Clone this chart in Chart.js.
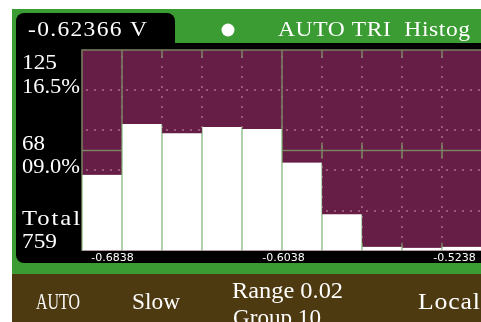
<!DOCTYPE html>
<html>
<head>
<meta charset="utf-8">
<script src="https://cdn.jsdelivr.net/npm/chart.js@4.4.1/dist/chart.umd.min.js"></script>
<style>
  html, body { margin: 0; padding: 0; background: #fff; overflow: hidden; }
  #wrap { position: relative; width: 482px; height: 322px; }
</style>
</head>
<body>
<div id="wrap"><canvas id="histCanvas" width="482" height="322"></canvas></div>
<script>
// Histogram bins: lower edge of each bin (V) and number of samples in it
const binStarts = ['-0.7038', '-0.6838', '-0.6638', '-0.6438', '-0.6238',
                   '-0.6038', '-0.5838', '-0.5638', '-0.5438', '-0.5238'];
const binCounts = [75, 125, 116, 122, 120, 87, 36, 4, 3, 4];

// Voltage labels under the plot
const axisTicks = [-0.6838, -0.6038, -0.5238];

// Count markers on the left side and the total sample count
const markCounts = [125, 68];
const totalCount = 759;

// Status line texts
const reading = '-0.62366 V';
const headerStatus = 'AUTO TRI  Histog';
const footerItems = ['AUTO', 'Slow', 'Range 0.02', 'Group 10', 'Local'];

const GREEN = 'rgb(58,156,50)';
const BROWN = 'rgb(78,58,16)';
const PLOT_BG = 'rgb(102,30,70)';
const GRID = 'rgb(122,130,98)';
const DOTS = 'rgba(205,150,170,0.5)';
const SERIF = 'Liberation Serif';

function pct(n) {
    return (n / totalCount * 100).toFixed(1).padStart(4, '0') + '%';
}

// draw a string so it spans the given width: stretch a little, then space out,
// or squeeze when it is too wide
function fitText(ctx, text, x, y, width) {
    ctx.save();
    ctx.letterSpacing = '0px';
    const natural = ctx.measureText(text).width;
    const sx = Math.min(width / natural, 1.12);
    ctx.translate(x, y);
    ctx.scale(sx, 1);
    if (sx < width / natural && text.length > 1) {
        ctx.letterSpacing = ((width / sx - natural) / (text.length - 1)).toFixed(2) + 'px';
    }
    ctx.fillText(text, 0, 0);
    ctx.restore();
}

const scopeFrame = {
    id: 'scopeFrame',
    beforeDraw(chart) {
        const ctx = chart.ctx;
        ctx.save();
        ctx.fillStyle = '#fff';
        ctx.fillRect(0, 0, chart.width, chart.height);
        ctx.fillStyle = GREEN;
        ctx.fillRect(12, 9, chart.width - 12, 265);
        ctx.fillStyle = BROWN;
        ctx.fillRect(12, 274, chart.width - 12, 48);

        // black display panel with the reading tab on top
        ctx.fillStyle = '#000';
        ctx.beginPath();
        ctx.roundRect(16, 13, 159, 40, [8, 8, 0, 0]);
        ctx.fill();
        ctx.beginPath();
        ctx.roundRect(16, 43, chart.width - 16, 220, [0, 0, 0, 8]);
        ctx.fill();

        // trigger indicator
        ctx.fillStyle = '#fff';
        ctx.beginPath();
        ctx.arc(228, 30, 6.5, 0, Math.PI * 2);
        ctx.fill();
        ctx.restore();
    },
    beforeDatasetsDraw(chart) {
        const ctx = chart.ctx;
        const { left, right, top, bottom } = chart.chartArea;
        const dx = (right - left) / 10;
        const dy = (bottom - top) / 5;
        const midY = top + dy * 2.5;
        ctx.save();
        ctx.fillStyle = PLOT_BG;
        ctx.fillRect(left, top, right - left, bottom - top);

        // dotted division lines
        ctx.fillStyle = DOTS;
        for (let k = 1; k < 10; k++) {
            const x = Math.round(left + k * dx);
            for (let y = top + 6; y < bottom; y += 10) ctx.fillRect(x - 1, y, 2, 2);
        }
        for (let k = 1; k < 5; k++) {
            const y = Math.round(top + k * dy);
            for (let x = left + 4; x < right; x += 8) ctx.fillRect(x, y - 1, 2, 2);
        }

        // frame, centre lines and division ticks
        ctx.strokeStyle = GRID;
        ctx.lineWidth = 1.5;
        ctx.beginPath();
        ctx.moveTo(left, bottom); ctx.lineTo(left, top); ctx.lineTo(right, top);
        ctx.moveTo(left, midY); ctx.lineTo(right, midY);
        ctx.moveTo(left + dx, top); ctx.lineTo(left + dx, bottom);
        ctx.moveTo(left + dx * 5, top); ctx.lineTo(left + dx * 5, bottom);
        for (let k = 1; k < 10; k++) {
            const x = left + k * dx;
            ctx.moveTo(x, top); ctx.lineTo(x, top + 8);
            ctx.moveTo(x, midY - 8); ctx.lineTo(x, midY + 8);
            ctx.moveTo(x, bottom - 8); ctx.lineTo(x, bottom);
        }
        ctx.stroke();
        ctx.restore();
    },
    afterDraw(chart) {
        const ctx = chart.ctx;
        ctx.save();
        ctx.fillStyle = '#fff';
        ctx.textBaseline = 'alphabetic';
        ctx.font = '21px "' + SERIF + '"';

        fitText(ctx, reading, 28, 36, 119);
        fitText(ctx, headerStatus, 278, 36, 192);

        ctx.font = '22px "' + SERIF + '"';
        fitText(ctx, String(markCounts[0]), 22, 69, 35);
        fitText(ctx, pct(markCounts[0]), 22, 93, 58);
        fitText(ctx, String(markCounts[1]), 22, 150, 23);
        fitText(ctx, pct(markCounts[1]), 22, 173, 58);
        fitText(ctx, 'Total', 22, 225, 58);
        fitText(ctx, String(totalCount), 22, 248, 35);

        ctx.font = '23px "' + SERIF + '"';
        fitText(ctx, footerItems[0], 36, 309, 44);
        fitText(ctx, footerItems[1], 132, 309, 48);
        fitText(ctx, footerItems[2], 232, 298, 111);
        fitText(ctx, footerItems[3], 233, 325, 88);
        fitText(ctx, footerItems[4], 418, 309, 62);
        ctx.restore();
    }
};

new Chart(document.getElementById('histCanvas').getContext('2d'), {
    type: 'bar',
    data: {
        labels: binStarts,
        datasets: [{
            data: binCounts,
            backgroundColor: '#fff',
            borderColor: 'rgb(140,188,136)',
            borderWidth: { left: 1, right: 1, top: 0, bottom: 0 },
            categoryPercentage: 1,
            barPercentage: 1
        }]
    },
    options: {
        responsive: false,
        animation: false,
        layout: { padding: { left: 82, top: 50, right: 0, bottom: 56 } },
        scales: {
            x: { display: false },
            y: { display: false, min: 0, max: 198 },
            volts: {
                type: 'linear',
                position: 'bottom',
                offset: false,
                min: -0.69807,
                max: -0.51094,
                afterBuildTicks: scale => {
                    scale.ticks = axisTicks.map(v => ({ value: v }));
                },
                grid: { display: false, drawTicks: false, offset: false },
                border: { display: false },
                ticks: {
                    color: '#fff',
                    padding: 1,
                    autoSkip: false,
                    maxRotation: 0,
                    font: { family: 'DejaVu Sans', size: 11 },
                    callback: v => v.toFixed(4)
                }
            }
        },
        plugins: {
            legend: { display: false },
            tooltip: { enabled: false }
        }
    },
    plugins: [scopeFrame]
});
</script>
</body>
</html>
